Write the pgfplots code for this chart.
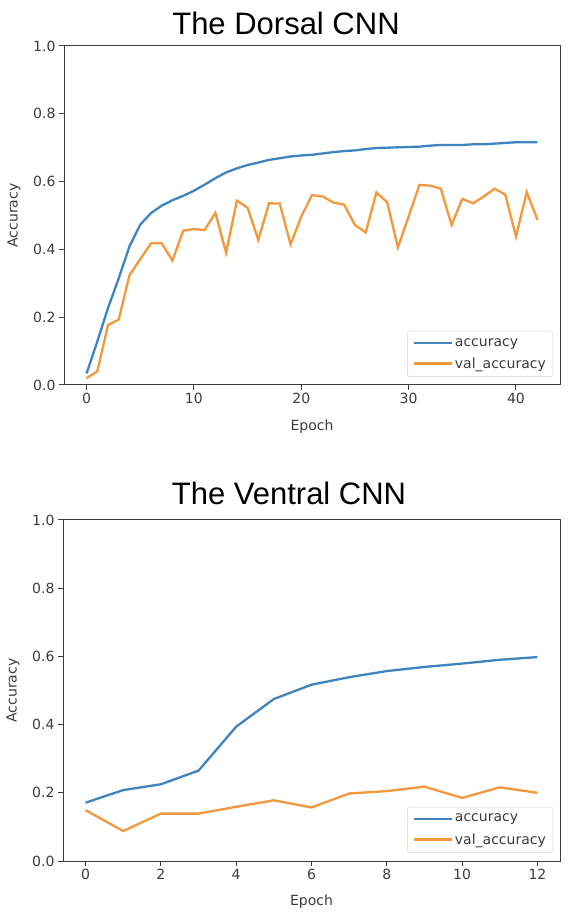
\documentclass[border=0pt]{standalone}
\usepackage{pgfplots}
\pgfplotsset{compat=1.18}
\usepackage{fontspec}
\setmainfont{DejaVu Sans}
\newfontfamily\titlefont{Liberation Sans}
\definecolor{mblue}{RGB}{62,132,190}
\definecolor{morange}{RGB}{243,152,60}
\definecolor{axgray}{RGB}{60,60,60}
\pgfplotsset{
  mystyle/.style={
    scale only axis,
    ymin=0, ymax=1, ytick={0,0.2,0.4,0.6,0.8,1.0},
    yticklabel style={/pgf/number format/fixed, /pgf/number format/fixed zerofill, /pgf/number format/precision=1},
    /pgf/number format/assume math mode=true,
    tick label style={font=\fontsize{14}{14}\selectfont, text=axgray},
    tick align=outside, major tick length=5pt, xtick pos=bottom, ytick pos=left,
    axis line style={axgray, line width=1pt},
    tick style={axgray, line width=1pt},
    xlabel=Epoch, ylabel=Accuracy,
    label style={font=\fontsize{14}{14}\selectfont, text=axgray},
    legend style={at={(0.986,0.024)}, anchor=south east, draw=gray!35, rounded corners=2pt,
      font=\fontsize{14}{14}\selectfont, text=axgray, inner xsep=5pt, inner ysep=5pt, row sep=6pt, cells={anchor=west}},
    legend cell align=left,
    legend image code/.code={\path (0pt,0pt) -- (38pt,0pt); \draw[##1] (0pt,0pt) -- (30pt,0pt);},
  },
  acc/.style={mblue, line width=2.3pt},
  vacc/.style={morange, line width=2.3pt},
}
\begin{document}
\begin{tikzpicture}
\useasboundingbox (0,0) rectangle (568pt,918pt);
\node[font=\titlefont\fontsize{31}{31}\selectfont, anchor=base] at (286pt,883pt) {The Dorsal CNN};
\node[font=\titlefont\fontsize{31}{31}\selectfont, anchor=base] at (289pt,413pt) {The Ventral CNN};
\begin{axis}[mystyle,
  at={(64pt,533pt)}, anchor=south west, width=496pt, height=339pt,
  xmin=-2.1, xmax=44.1, xtick={0,10,20,30,40},
  xlabel style={at={(axis description cs:0.5,-0.124)}, anchor=center},
  ylabel style={at={(axis description cs:-0.1008,0.5)}, anchor=center},
]
\addplot[acc] coordinates {
(0,0.034) (1,0.128) (2,0.227) (3,0.315) (4,0.409) (5,0.473) (6,0.507) (7,0.529) (8,0.545) (9,0.558)
(10,0.573) (11,0.591) (12,0.610) (13,0.627) (14,0.639) (15,0.649) (16,0.656) (17,0.664) (18,0.669) (19,0.674)
(20,0.677) (21,0.679) (22,0.683) (23,0.687) (24,0.690) (25,0.692) (26,0.696) (27,0.699) (28,0.700) (29,0.701)
(30,0.702) (31,0.703) (32,0.706) (33,0.708) (34,0.708) (35,0.708) (36,0.710) (37,0.710) (38,0.712) (39,0.714)
(40,0.716) (41,0.716) (42,0.716)
};
\addlegendentry{accuracy}
\addplot[vacc] coordinates {
(0,0.020) (1,0.040) (2,0.177) (3,0.193) (4,0.324) (5,0.371) (6,0.418) (7,0.418) (8,0.367) (9,0.455)
(10,0.460) (11,0.457) (12,0.508) (13,0.390) (14,0.544) (15,0.523) (16,0.428) (17,0.536) (18,0.535) (19,0.415)
(20,0.497) (21,0.560) (22,0.556) (23,0.538) (24,0.532) (25,0.472) (26,0.450) (27,0.568) (28,0.539) (29,0.406)
(30,0.497) (31,0.590) (32,0.588) (33,0.579) (34,0.472) (35,0.549) (36,0.536) (37,0.556) (38,0.579) (39,0.562)
(40,0.438) (41,0.569) (42,0.487)
};
\addlegendentry{val\_accuracy}
\end{axis}
\begin{axis}[mystyle,
  at={(63pt,57pt)}, anchor=south west, width=497pt, height=341pt,
  xmin=-0.6, xmax=12.6, xtick={0,2,4,6,8,10,12},
  xlabel style={at={(axis description cs:0.5,-0.119)}, anchor=center},
  ylabel style={at={(axis description cs:-0.1006,0.5)}, anchor=center},
]
\addplot[acc] coordinates {
(0,0.171) (1,0.208) (2,0.225) (3,0.265) (4,0.394) (5,0.475) (6,0.517) (7,0.539) (8,0.557) (9,0.569)
(10,0.579) (11,0.590) (12,0.598)
};
\addlegendentry{accuracy}
\addplot[vacc] coordinates {
(0,0.149) (1,0.088) (2,0.139) (3,0.139) (4,0.159) (5,0.178) (6,0.157) (7,0.198) (8,0.205) (9,0.218)
(10,0.185) (11,0.216) (12,0.200)
};
\addlegendentry{val\_accuracy}
\end{axis}
\end{tikzpicture}
\end{document}
